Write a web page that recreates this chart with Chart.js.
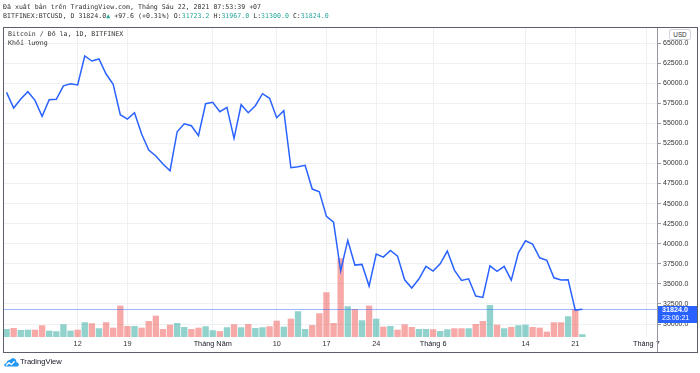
<!DOCTYPE html>
<html><head><meta charset="utf-8">
<script src="https://cdn.jsdelivr.net/npm/chart.js@4/dist/chart.umd.min.js"></script>
<style>
html,body{margin:0;padding:0;background:#fff;width:700px;height:373px;overflow:hidden;}
#wrap{position:relative;width:700px;height:373px;}
canvas{position:absolute;left:0;top:0;}
.t{position:absolute;font-family:"DejaVu Sans Mono",monospace;font-size:6.6px;color:#333;white-space:pre;line-height:8px;height:8px;}
.g{color:#26a69a;}
#box{position:absolute;left:3px;top:27px;width:693px;height:324px;border:1px solid #5d606b;box-sizing:content-box;pointer-events:none;}
#sep{position:absolute;left:657px;top:27px;width:1px;height:325px;background:#9598a1;}
#usd{position:absolute;left:669px;top:29px;width:20px;height:9px;border:1px solid #d1d4dc;border-radius:2px;font:6.3px "Liberation Sans",Arial,sans-serif;color:#333;text-align:center;line-height:9px;background:#fff;}
#logo{position:absolute;left:4px;top:356px;height:12px;}
#logotext{position:absolute;left:20px;top:357px;font:7.6px "Liberation Sans",Arial,sans-serif;color:#131722;line-height:10px;}
</style></head>
<body><div id="wrap">
<canvas id="c" width="700" height="373"></canvas>
<div class="t" style="left:3px;top:3px;">Đã xuất bản trên TradingView.com, Tháng Sáu 22, 2021 07:53:39 +07</div>
<div class="t" style="left:3px;top:12px;">BITFINEX:BTCUSD, D 31824.0<span class="g">▲</span> +97.6 (+0.31%) O:<span class="g">31723.2</span> H:<span class="g">31967.0</span> L:<span class="g">31300.0</span> C:<span class="g">31824.0</span></div>
<div class="t" style="left:8px;top:30px;">Bitcoin / Đô la, 1D, BITFINEX</div>
<div class="t" style="left:8px;top:39px;">Khối lượng</div>
<div id="sep"></div>
<div id="box"></div>
<div id="usd">USD</div>
<svg id="logo" width="15" height="11" viewBox="0 0 15 11">
<path d="M1.5 10 C0.3 10 0 8.6 0.6 7.6 C1 6.8 2 6.5 2.6 6.7 C2.8 4.6 4.4 3.4 6.1 3.6 C7 2 8.6 1.4 10.2 2 C11.8 2.6 12.6 4.2 12.4 5.7 C13.9 5.9 15 7 14.8 8.4 C14.6 9.5 13.8 10 12.8 10 Z" fill="#2196f3"/>
<path d="M2.2 9 L5 6.2 L7.4 8.2 L10.6 4.8" fill="none" stroke="#fff" stroke-width="1.3"/>
</svg>
<div id="logotext">TradingView</div>
</div>
<script>
const dates = [
'04-02','04-03','04-04','04-05','04-06','04-07','04-08','04-09','04-10','04-11','04-12','04-13','04-14','04-15','04-16','04-17','04-18','04-19','04-20','04-21','04-22','04-23','04-24','04-25','04-26','04-27','04-28','04-29','04-30',
'05-01','05-02','05-03','05-04','05-05','05-06','05-07','05-08','05-09','05-10','05-11','05-12','05-13','05-14','05-15','05-16','05-17','05-18','05-19','05-20','05-21','05-22','05-23','05-24','05-25','05-26','05-27','05-28','05-29','05-30','05-31',
'06-01','06-02','06-03','06-04','06-05','06-06','06-07','06-08','06-09','06-10','06-11','06-12','06-13','06-14','06-15','06-16','06-17','06-18','06-19','06-20','06-21','06-22','06-23','06-24','06-25','06-26','06-27','06-28','06-29','06-30',
'07-01','07-02'];
const closes = [
58857,56901,58022,58932,57860,55859,57935,57985,59666,59915,59767,63380,62757,63006,61137,59854,56066,55530,56315,53660,51666,50919,49922,49088,53948,54945,54696,53450,57437,
57611,56440,56988,53126,57312,56315,57187,58683,58110,55692,56565,49462,49600,49760,46808,46473,43406,42697,36630,40416,37339,37425,34722,38710,38336,39170,38460,35507,34473,35594,37176,
36591,37500,39083,36716,35433,35633,33476,33314,37251,36554,37177,35470,38872,40367,39955,38249,37924,35756,35470,35507,31732,31824];
const volumes = [
3850,4350,3350,3500,3500,5700,3000,2700,6200,3000,3500,7200,6700,4200,7200,4500,15500,5350,5350,4500,7850,10500,3850,6000,6850,4850,3850,4500,5200,
3200,2750,4700,6200,4700,6350,4350,4700,5200,8000,5000,9000,12700,3850,5850,11700,22200,6850,39200,15200,13850,8200,15500,9000,5000,5350,3500,6200,4850,3850,3850,
3700,2850,3700,4200,4200,4200,6350,7850,15850,6000,4200,4850,5700,6000,4850,4500,2500,7200,7200,10200,13850,1200];
const priceTicks = [30000,32500,35000,37500,40000,42500,45000,47500,50000,52500,55000,57500,60000,62500,65000];
const tickDates  = ['04-12','04-19','05-01','05-10','05-17','05-24','06-01','06-14','06-21','07-01'];
const tickLabels = ['12','19','Tháng Năm','10','17','24','Tháng 6','14','21','Tháng 7'];
const lastPrice = 31824.0;
const lastTime = '23:06:21';

const UP = 'rgba(38,166,154,0.5)', DOWN = 'rgba(239,83,80,0.5)';
const volColors = closes.map((c,i)=> (i===0 || c >= closes[i-1]) ? UP : DOWN);

const priceTag = {
  id:'priceTag',
  afterDatasetsDraw(chart){
    const {ctx, chartArea} = chart;
    const y = chart.scales.y.getPixelForValue(lastPrice);
    ctx.save();
    ctx.strokeStyle = 'rgba(41,98,255,0.45)';
    ctx.lineWidth = 1;
    ctx.beginPath();
    ctx.moveTo(chartArea.left, Math.round(y)+0.5);
    ctx.lineTo(chartArea.right, Math.round(y)+0.5);
    ctx.stroke();
    ctx.restore();
  },
  afterDraw(chart){
    const {ctx, chartArea} = chart;
    const y = chart.scales.y.getPixelForValue(lastPrice);
    ctx.save();
    ctx.fillStyle = '#2962FF';
    ctx.fillRect(chartArea.right, Math.round(y)-3, 40, 17);
    ctx.fillStyle = '#fff';
    ctx.textBaseline = 'middle';
    ctx.textAlign = 'left';
    ctx.font = 'bold 7.2px "Liberation Sans", Arial, sans-serif';
    ctx.fillText(lastPrice.toFixed(1), chartArea.right+5, Math.round(y)+1);
    ctx.font = '7px "Liberation Sans", Arial, sans-serif';
    ctx.fillText(lastTime, chartArea.right+5, Math.round(y)+9);
    ctx.restore();
  }
};

new Chart(document.getElementById('c'), {
  type:'line',
  data:{
    labels: dates,
    datasets:[
      {type:'line', data: closes, borderColor:'#2962FF', borderWidth:1.5, pointRadius:0, tension:0, fill:false, yAxisID:'y', order:1},
      {type:'bar', data: volumes, backgroundColor: volColors, borderWidth:0, barThickness:5.7, yAxisID:'v', order:2}
    ]
  },
  options:{
    responsive:false, animation:false, devicePixelRatio:1,
    layout:{padding:{left:3, top:27, right:3, bottom:21}},
    plugins:{legend:{display:false}, tooltip:{enabled:false}},
    scales:{
      x:{
        type:'category', offset:true,
        grid:{offset:false, color:'#eef0f4', drawTicks:false},
        border:{display:false},
        afterBuildTicks(s){ s.ticks = tickDates.map(d=>({value: dates.indexOf(d)})); },
        afterFit(s){ s.height = 15; },
        ticks:{
          autoSkip:false, maxRotation:0, padding:3,
          color:(c)=> (tickLabels[c.index]||'').startsWith('Tháng') ? '#131722' : '#333',
          font:{family:'"Liberation Sans", Arial, sans-serif', size:7.3},
          callback:(v,i)=>tickLabels[i]
        }
      },
      y:{
        position:'right', min:28381, max:66993,
        afterBuildTicks(s){ s.ticks = priceTicks.map(v=>({value:v})); },
        afterFit(s){ s.width = 40; },
        grid:{color:'#eef0f4', tickLength:4, tickColor:'#9598a1'},
        border:{display:false},
        ticks:{padding:2, color:'#333', font:{family:'"Liberation Sans", Arial, sans-serif', size:7}, callback:(v)=>Number(v).toFixed(1)}
      },
      v:{display:false, min:0, max:155000}
    }
  },
  plugins:[priceTag]
});
</script>
</body></html>
